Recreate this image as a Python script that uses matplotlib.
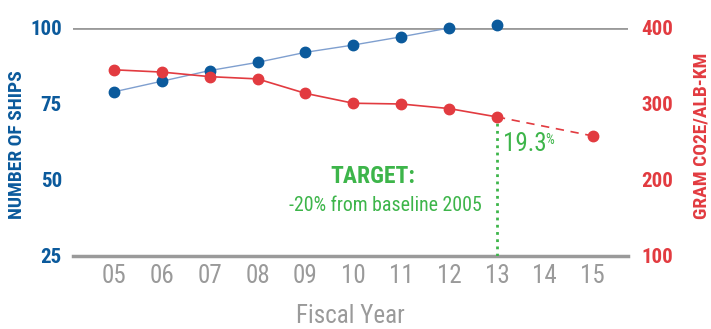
import matplotlib.pyplot as plt

# цвета
BLUE = '#0b5a9c'
BLUE_LINE = '#7f9fcf'
RED = '#e23b40'
GREEN = '#3db54a'
GRAY = '#9a9a9a'

# данные по годам
years = [5, 6, 7, 8, 9, 10, 11, 12, 13]
year_labels = ['05', '06', '07', '08', '09', '10', '11', '12', '13', '14', '15']
ships = [79, 82.5, 86, 88.7, 92, 94.4, 97.1, 100, 101]
co2 = [345, 342, 336, 333, 314, 301, 300, 294, 283]
co2_target_years = [13, 15]
co2_target = [283, 258]
reduction_label = '19.3'

plt.rcParams['font.family'] = ['Roboto Condensed', 'DejaVu Sans']

W, H = 711, 329
fig = plt.figure(figsize=(W / 100, H / 100), dpi=100)
ax = fig.add_axes([0.1027, 0.2219, 0.780, 0.693])
ax2 = ax.twinx()

ax.set_xlim(4.144, 15.73)
ax.set_ylim(25, 100)
ax2.set_ylim(100, 400)

for a in (ax, ax2):
    for s in a.spines.values():
        s.set_visible(False)

# только верхняя и нижняя линии
ax.axhline(100, color=GRAY, lw=2, zorder=1)
ax.axhline(25, color=GRAY, lw=2.5, zorder=1, clip_on=False)

ax.set_xticks(range(5, 16))
ax.set_xticklabels(year_labels, color=GRAY, fontsize=18)
ax.tick_params(axis='x', length=0, pad=6)

ax.set_yticks([25, 50, 75, 100])
ax.set_yticklabels(['25', '50', '75', '100'], color=BLUE, fontsize=15, fontweight='bold')
ax.tick_params(axis='y', length=0, pad=8)

ax2.set_yticks([100, 200, 300, 400])
ax2.set_yticklabels(['100', '200', '300', '400'], color=RED, fontsize=15, fontweight='bold')
ax2.tick_params(axis='y', length=0, pad=10)

# линии
ax.plot(years, ships, color=BLUE_LINE, lw=1, zorder=3)
ax.plot(years, ships, 'o', color=BLUE, ms=7.5, zorder=4, clip_on=False)
ax2.plot(years, co2, color=RED, lw=1.2, zorder=3)
ax2.plot(co2_target_years, co2_target, color=RED, lw=1.2, ls=(0, (5, 4)), zorder=3)
ax2.plot(years + co2_target_years[1:], co2 + co2_target[1:], 'o', color=RED, ms=7.5, zorder=4)

# вертикальная пунктирная до оси
ax2.plot([13, 13], [100, co2[-1]], color=GREEN, lw=2, ls=(0, (1, 1.6)), zorder=2)

ax2.text(13.12, 247, reduction_label, color=GREEN, fontsize=18, va='center', ha='left')
ax2.text(14.02, 253, '%', color=GREEN, fontsize=10, va='center', ha='left')
ax2.text(10.41, 204, 'TARGET:', color=GREEN, fontsize=17, fontweight='bold', ha='center', va='center')
ax2.text(10.66, 166, '-20% from baseline 2005', color=GREEN, fontsize=14.3, ha='center', va='center')

# подписи осей
fig.text(17 / W, 1 - 145 / H, 'NUMBER OF SHIPS', color=BLUE, fontsize=14, fontweight='bold',
         rotation=90, ha='center', va='center')
fig.text(702 / W, 1 - 136 / H, 'GRAM CO2E/ALB-KM', color=RED, fontsize=14, fontweight='bold',
         rotation=90, ha='center', va='center')
fig.text(350 / W, 1 - 316 / H, 'Fiscal Year', color=GRAY, fontsize=18, ha='center', va='center')

fig.savefig('out.png', dpi=100)
